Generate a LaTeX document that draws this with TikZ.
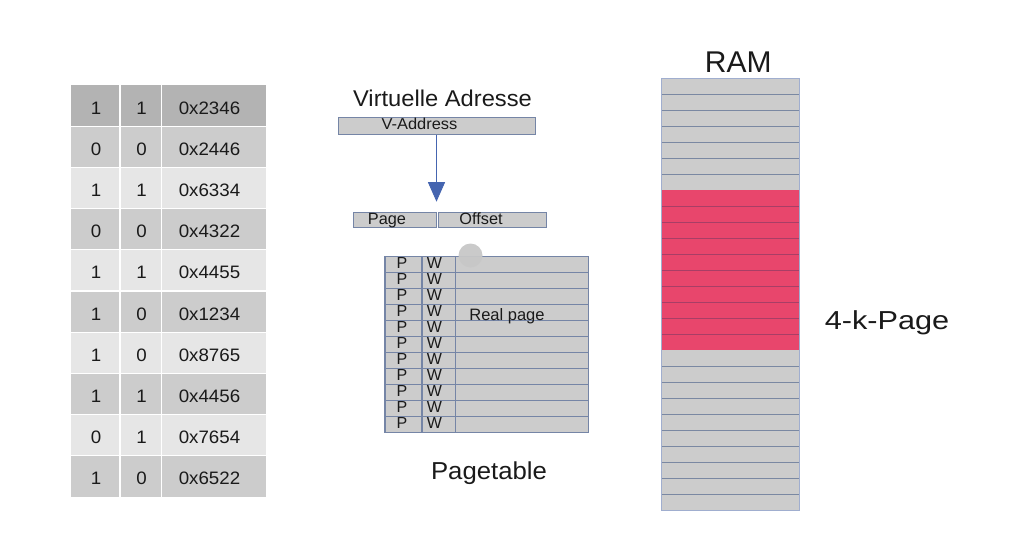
\documentclass[tikz,border=0pt]{standalone}
\usepackage{fontspec}
\setmainfont{Liberation Sans}
\usetikzlibrary{arrows.meta}
\definecolor{dk}{HTML}{B3B3B3}
\definecolor{md}{HTML}{CCCCCC}
\definecolor{lt}{HTML}{E6E6E6}
\definecolor{txt}{HTML}{1A1A1A}
\definecolor{boxfill}{HTML}{CCCCCC}
\definecolor{boxline}{HTML}{7585A6}
\definecolor{ramline}{HTML}{7A88A2}
\definecolor{ramborder}{HTML}{A0AECF}
\definecolor{ramred}{HTML}{E8466C}
\definecolor{redline}{HTML}{A83E66}
\definecolor{arrowblue}{HTML}{4565B0}
\newcommand{\hsc}[2]{\scalebox{#1}[1]{#2}}
\begin{document}
\begin{tikzpicture}[x=1pt,y=-1pt,
  cell/.style={anchor=base,inner sep=0pt,text=txt,font=\fontsize{18}{21}\selectfont},
  pw/.style={anchor=base,inner sep=0pt,text=txt,font=\fontsize{16}{18}\selectfont},
  lbl/.style={anchor=base,inner sep=0pt,text=txt},
  addrbox/.style={draw=boxline,fill=boxfill,line width=0.9pt,inner sep=0pt,rectangle},
  ptline/.style={draw=boxline,line width=1.1pt},
  arr/.style={draw=arrowblue,line width=0.9pt,-{Triangle[length=19.5pt,width=17pt]}}
]
\useasboundingbox (0,0) rectangle (1031,557);

% ---------- left table ----------
\foreach \a/\b/\c/\col [count=\i from 0] in {1/1/2346/dk,0/0/2446/md,1/1/6334/lt,0/0/4322/md,1/1/4455/lt,1/0/1234/md,1/0/8765/lt,1/1/4456/md,0/1/7654/lt,1/0/6522/md}{
  \pgfmathsetmacro\rt{85+41.2*\i}
  \fill[\col] (70.5,\rt) rectangle (266,\rt+41.2);
  \node[cell] (ta\i) at (96,\rt+29) {\hsc{1.04}{\a}};
  \node[cell] (tb\i) at (141.5,\rt+29) {\hsc{1.04}{\b}};
  \node[cell] (tc\i) at (209.5,\rt+29) {\hsc{1.04}{0x\c}};
}
\foreach \i in {1,...,9}{
  \draw[white,line width=1.2pt] (70.5,85+41.2*\i) -- (266,85+41.2*\i);
}
\draw[white,line width=1.2pt] (119.9,85) -- (119.9,497);
\draw[white,line width=1.2pt] (161.4,85) -- (161.4,497);

% ---------- virtual address ----------
\node[lbl,font=\fontsize{22.8}{26}\selectfont] (vtitle) at (442.5,106) {\hsc{1.04}{Virtuelle Adresse}};
\node[addrbox,minimum width=197pt,minimum height=16.3pt] (va) at (436.5,126) {};
\node[lbl,font=\fontsize{15.8}{18}\selectfont] (valbl) at (419.5,129.5) {\hsc{1.04}{V-Address}};
\node[addrbox,minimum width=83.5pt,minimum height=15.7pt] (pg) at (394.75,219.85) {};
\node[addrbox,minimum width=108.7pt,minimum height=15.7pt] (off) at (492.35,219.85) {};
\node[lbl,font=\fontsize{16.3}{19}\selectfont] (pglbl) at (387,224.8) {Page};
\node[lbl,font=\fontsize{16.3}{19}\selectfont] (offlbl) at (481,224.8) {Offset};
\coordinate (tip) at (436.5,201.7);
\draw[arr] (va.south) -- (tip);

% ---------- page table ----------
\fill[boxfill] (385,256.7) rectangle (588.3,432.7);
\foreach \i in {1,...,10}{
  \draw[ptline] (385,256.7+16*\i) -- (588.3,256.7+16*\i);
}
\draw[ptline] (385,256.7) rectangle (588.3,432.7);
\draw[ptline] (422,256.7) -- (422,432.7);
\draw[ptline] (455.7,256.7) -- (455.7,432.7);
\foreach \i in {0,...,10}{
  \node[pw] (p\i) at (402,256.7+16*\i+11.8) {P};
  \node[pw] (w\i) at (434.5,256.7+16*\i+11.8) {W};
}
\node[lbl,font=\fontsize{16.5}{19}\selectfont] (real) at (507,320) {Real page};
\fill[black!22,opacity=0.95] (470.5,255.5) circle (12);
\node[lbl,font=\fontsize{24.5}{28}\selectfont] (ptlbl) at (489,479.3) {\hsc{1.05}{Pagetable}};

% ---------- RAM ----------
\fill[boxfill] (661,78.3) rectangle (799.5,510);
\fill[ramred] (661,190.3) rectangle (799.5,350.3);
\foreach \i in {1,...,6}{
  \draw[ramline,line width=1.2pt] (661,78.3+16*\i) -- (799.5,78.3+16*\i);
}
\foreach \i in {8,...,16}{
  \draw[redline,line width=1.2pt] (661,78.3+16*\i) -- (799.5,78.3+16*\i);
}
\foreach \i in {18,...,26}{
  \draw[ramline,line width=1.2pt] (661,78.3+16*\i) -- (799.5,78.3+16*\i);
}
\draw[ramborder,line width=1pt] (661,78.3) rectangle (799.5,510);
\node[lbl,font=\fontsize{30}{34}\selectfont] (ram) at (738.3,72) {RAM};
\node[lbl,font=\fontsize{26}{30}\selectfont] (kpage) at (887,329) {\hsc{1.18}{4-k-Page}};
\end{tikzpicture}
\end{document}
